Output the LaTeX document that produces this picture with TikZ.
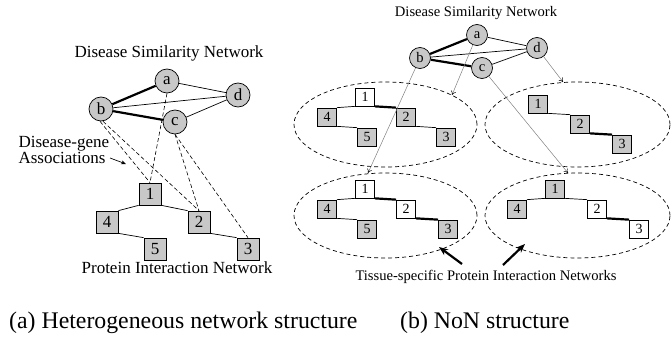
\documentclass[tikz,border=0pt]{standalone}
\usepackage{fontspec}
\setmainfont{Liberation Serif}
\usetikzlibrary{arrows.meta,shapes.geometric}
\definecolor{nodegray}{RGB}{200,200,200}
\begin{document}
\begin{tikzpicture}[x=1pt,y=-1pt,
  lfont/.style={font=\fontsize{17}{17}\selectfont},
  rfont/.style={font=\fontsize{14.6}{15}\selectfont},
  lcirc/.style={circle,draw,fill=nodegray,minimum size=24pt,inner sep=0pt,line width=0.7pt,lfont},
  lsq/.style={rectangle,draw,fill=nodegray,minimum width=22pt,minimum height=22pt,inner sep=0pt,line width=0.7pt,lfont},
  rcirc/.style={circle,draw,fill=nodegray,minimum size=21pt,inner sep=0pt,line width=0.7pt,rfont},
  rsq/.style={rectangle,draw,fill=nodegray,minimum width=19pt,minimum height=18pt,inner sep=0pt,line width=0.7pt,font=\fontsize{14}{14}\selectfont},
  wsq/.style={rsq,fill=white},
  thinedge/.style={line width=0.7pt},
  thickedge/.style={line width=2.2pt},
  assoc/.style={dashed,dash pattern=on 4pt off 2.5pt,line width=0.6pt},
  tissue/.style={ellipse,draw,dashed,dash pattern=on 4pt off 3pt,line width=0.7pt,inner sep=0pt},
  mapping/.style={draw=gray,line width=0.5pt,-{To[length=4pt,width=5pt,color=black]}},
  pointer/.style={line width=2.2pt,-{Stealth[length=9pt,width=7pt]}},
  capfont/.style={font=\fontsize{23.8}{24}\selectfont}
]
\useasboundingbox (0,0) rectangle (671,337);

% ---------------- (a) ----------------
\node[lfont,anchor=base] (ltitle) at (169,58) {Disease Similarity Network};
\node[lcirc] (a) at (167,81) {a};
\node[lcirc] (b) at (101,109) {b};
\node[lcirc] (c) at (175,122) {c};
\node[lcirc] (d) at (238,95) {d};
\draw[thickedge] (a) -- (b);
\draw[thickedge] (b) -- (c);
\draw[thinedge] (a) -- (d);
\draw[thinedge] (b) -- (d);
\draw[thinedge] (c) -- (d);

\node[lsq] (s1) at (150,194) {1};
\node[lsq] (s4) at (107,222) {4};
\node[lsq] (s2) at (199,222) {2};
\node[lsq] (s5) at (155,249) {5};
\node[lsq] (s3) at (248,249) {3};
\draw[thinedge] (s1.south west) -- (s4.north east);
\draw[thinedge] (s1.south east) -- (s2.north west);
\draw[thinedge] (s4.south east) -- (s5.north west);
\draw[thinedge] (s2.south east) -- (s3.north west);

\draw[assoc] ([xshift=-1pt]b.south) -- (s1.north);
\draw[assoc] ([xshift=2pt]b.south) -- (s2.north);
\draw[assoc] (a.south) -- (s1.north);
\draw[assoc] (c.south) -- (s2.north);
\draw[assoc] (c.south) -- (s3.north);

\node[lfont,anchor=base west] (dg1) at (15,147) {Disease-gene};
\node[lfont,anchor=base west] (dg2) at (15,163) {Associations};
\coordinate (dgs) at (110,158);
\coordinate (dge) at (126,164);
\draw[line width=0.7pt,-{Stealth[length=5pt,width=4pt]}] (dgs) -- (dge);

\node[lfont,anchor=base] (pin) at (177,273) {Protein Interaction Network};

% ---------------- (b) ----------------
\node[rfont,anchor=base] (rtitle) at (476,17) {Disease Similarity Network};
\node[rcirc] (ra) at (477,35) {a};
\node[rcirc] (rb) at (420,58) {b};
\node[rcirc] (rc) at (482,68) {c};
\node[rcirc] (rd) at (537,48) {d};
\draw[thickedge] (ra) -- (rb);
\draw[thickedge] (rb) -- (rc);
\draw[thinedge] (ra) -- (rd);
\draw[thinedge] (rb) -- (rd);
\draw[thinedge] (rc) -- (rd);

\node[tissue,minimum width=183pt,minimum height=85pt] (E1) at (385.5,124.5) {};
\node[tissue,minimum width=185pt,minimum height=85pt] (E2) at (577.5,124.5) {};
\node[tissue,minimum width=183pt,minimum height=85pt] (E3) at (385.5,215.5) {};
\node[tissue,minimum width=185pt,minimum height=85pt] (E4) at (577.5,215.5) {};

% top-left tissue
\node[wsq] (p1) at (365,97) {1};
\node[rsq] (p4) at (327,117) {4};
\node[rsq] (p2) at (406,117) {2};
\node[rsq] (p5) at (367,137) {5};
\node[rsq] (p3) at (446,137) {3};
\draw[thinedge] (p1.south west) -- (p4.north east);
\draw[thickedge] (p1.south east) -- (p2.north west);
\draw[thinedge] (p4.south east) -- (p5.north west);
\draw[thinedge] (p2.south east) -- (p3.north west);

% top-right tissue
\node[rsq] (q1) at (538,104) {1};
\node[rsq] (q2) at (580,124) {2};
\node[rsq] (q3) at (622,144) {3};
\draw[thinedge] (q1.south east) -- (q2.north west);
\draw[thickedge] (q2.south east) -- (q3.north west);

% bottom-left tissue
\node[wsq] (u1) at (365,189) {1};
\node[rsq] (u4) at (327,209) {4};
\node[wsq] (u2) at (406,209) {2};
\node[rsq] (u5) at (367,229) {5};
\node[rsq] (u3) at (448,229) {3};
\draw[thinedge] (u1.south west) -- (u4.north east);
\draw[thickedge] (u1.south east) -- (u2.north west);
\draw[thinedge] (u4.south east) -- (u5.north west);
\draw[thickedge] (u2.south east) -- (u3.north west);

% bottom-right tissue
\node[rsq] (v1) at (555,189) {1};
\node[rsq] (v4) at (517,209) {4};
\node[wsq] (v2) at (597,209) {2};
\node[wsq] (v3) at (639,229) {3};
\draw[thinedge] (v1.south west) -- (v4.north east);
\draw[thinedge] (v1.south east) -- (v2.north west);
\draw[thickedge] (v2.south east) -- (v3.north west);

% mapping arrows
\coordinate (t1) at (452,95);
\coordinate (t2) at (563,82);
\coordinate (t3) at (368,173);
\coordinate (t4) at (568,173);
\draw[mapping] (ra) -- (t1);
\draw[mapping] (rd) -- (t2);
\draw[mapping] (rb) -- (t3);
\draw[mapping] (rc) -- (t4);

\node[rfont,anchor=base] (tsl) at (486,280) {Tissue-specific Protein Interaction Networks};
\coordinate (k1s) at (462,264);
\coordinate (k1e) at (439,247);
\coordinate (k2s) at (503,265);
\coordinate (k2e) at (525,244);
\draw[pointer] (k1s) -- (k1e);
\draw[pointer] (k2s) -- (k2e);

% captions
\node[capfont,anchor=base west,inner sep=0pt] (capa) at (9,328) {(a) Heterogeneous network structure};
\node[capfont,anchor=base west,inner sep=0pt] (capb) at (400,328) {(b) NoN structure};
\end{tikzpicture}
\end{document}
